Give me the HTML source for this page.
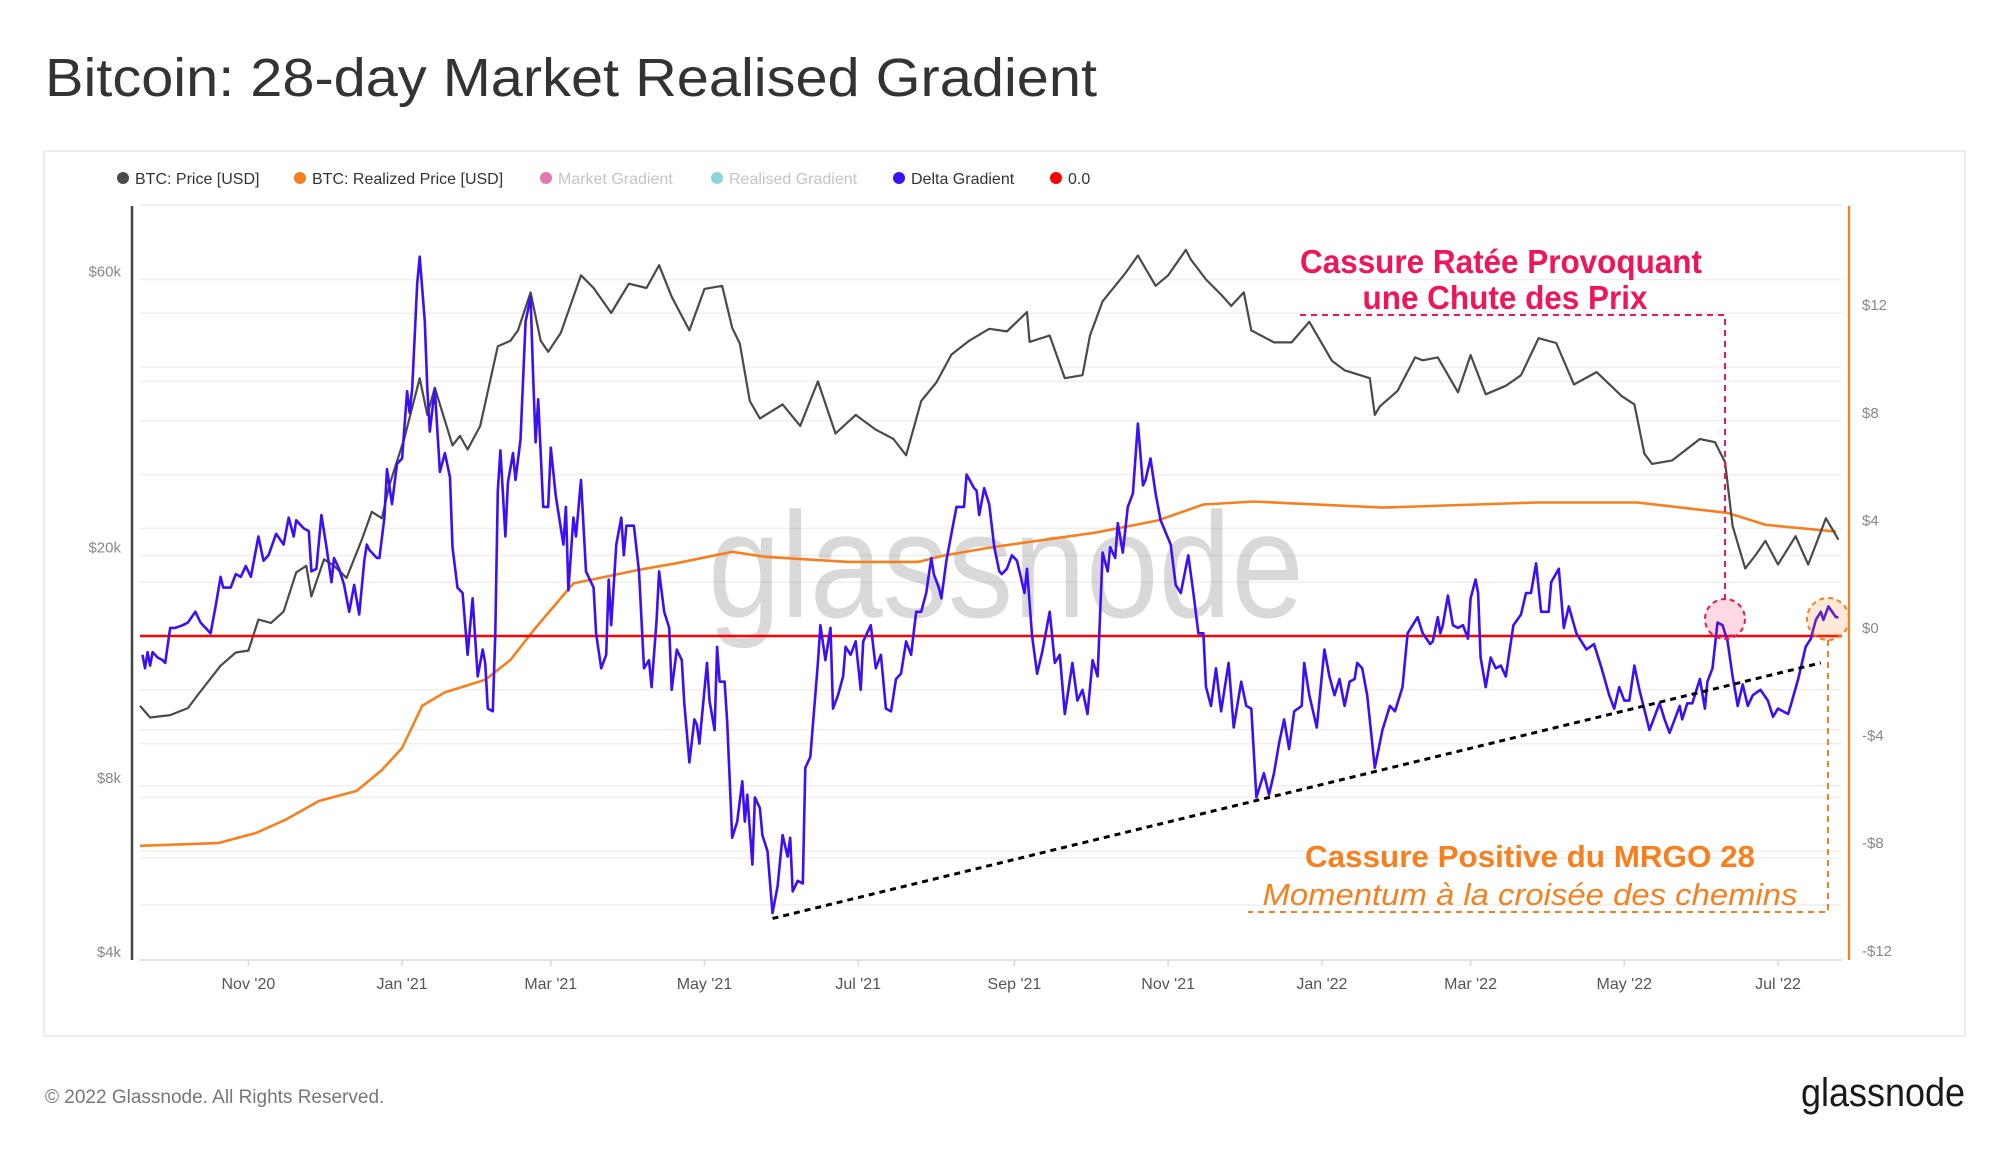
<!DOCTYPE html>
<html><head><meta charset="utf-8"><style>
html,body{margin:0;padding:0;background:#fff;}
svg{display:block;font-family:"Liberation Sans",sans-serif;}
</style></head><body>
<svg id="root" width="2000" height="1152" viewBox="0 0 2000 1152" xmlns="http://www.w3.org/2000/svg">
<text x="45" y="96" font-size="54" fill="#333" textLength="1052" lengthAdjust="spacingAndGlyphs">Bitcoin: 28-day Market Realised Gradient</text>
<rect x="44" y="151" width="1921" height="885" fill="none" stroke="#e6e6e6" stroke-width="1.5"/>
<g font-size="16">
 <g><circle cx="123" cy="178" r="6" fill="#4a4a4a"/><text x="135" y="184" fill="#333">BTC: Price [USD]</text></g>
 <g><circle cx="300" cy="178" r="6" fill="#f7801e"/><text x="312" y="184" fill="#333">BTC: Realized Price [USD]</text></g>
 <g><circle cx="546" cy="178" r="6" fill="#e07bb0"/><text x="558" y="184" fill="#c4c4c4">Market Gradient</text></g>
 <g><circle cx="717" cy="178" r="6" fill="#8fd3df"/><text x="729" y="184" fill="#c4c4c4">Realised Gradient</text></g>
 <g><circle cx="899" cy="178" r="6" fill="#3d0ff5"/><text x="911" y="184" fill="#333">Delta Gradient</text></g>
 <g><circle cx="1056" cy="178" r="6" fill="#ff0000"/><text x="1068" y="184" fill="#333">0.0</text></g>
</g>
<g id="grid"></g>
<text x="1006" y="617" font-size="150" fill="#000" fill-opacity="0.15" text-anchor="middle" textLength="596" lengthAdjust="spacingAndGlyphs">glassnode</text>
<g id="series"></g>
<g id="axes"></g>
<g>
 <text x="1501" y="273" font-size="33" font-weight="bold" fill="#f0145a" text-anchor="middle" textLength="402" lengthAdjust="spacingAndGlyphs">Cassure Ratée Provoquant</text>
 <text x="1505" y="309" font-size="33" font-weight="bold" fill="#f0145a" text-anchor="middle" textLength="285" lengthAdjust="spacingAndGlyphs">une Chute des Prix</text>
 <path d="M1300 315 H1725 V599" fill="none" stroke="#f0145a" stroke-width="2" stroke-dasharray="6 5"/>
 <circle cx="1725" cy="619" r="20" fill="rgba(240,20,90,0.16)" stroke="#f0145a" stroke-width="2" stroke-dasharray="5 4"/>
 <circle cx="1828" cy="619" r="21" fill="rgba(247,128,30,0.18)" stroke="#f7801e" stroke-width="2" stroke-dasharray="5 4"/>
 <path d="M1828 640 V912 H1248" fill="none" stroke="#f7801e" stroke-width="2" stroke-dasharray="6 5"/>
 <text x="1530" y="867" font-size="31" font-weight="bold" fill="#f7801e" text-anchor="middle" textLength="450" lengthAdjust="spacingAndGlyphs">Cassure Positive du MRGO 28</text>
 <text x="1530" y="905" font-size="31" font-style="italic" fill="#f7801e" text-anchor="middle" textLength="535" lengthAdjust="spacingAndGlyphs">Momentum à la croisée des chemins</text>
</g>
<text x="45" y="1103" font-size="19" fill="#777">© 2022 Glassnode. All Rights Reserved.</text>
<text x="1965" y="1106" font-size="40" fill="#1a1a1a" text-anchor="end" textLength="164" lengthAdjust="spacingAndGlyphs">glassnode</text>
</svg>
<script>
// ---- data ----
const priceDates = ['2020-09-19','2020-09-23','2020-10-01','2020-10-08','2020-10-12','2020-10-21','2020-10-27','2020-11-01','2020-11-05','2020-11-10','2020-11-15','2020-11-20','2020-11-24','2020-11-26','2020-12-01','2020-12-05','2020-12-10','2020-12-16','2020-12-20','2020-12-24','2020-12-27','2021-01-02','2021-01-08','2021-01-11','2021-01-14','2021-01-21','2021-01-24','2021-01-27','2021-02-01','2021-02-08','2021-02-13','2021-02-16','2021-02-21','2021-02-25','2021-02-28','2021-03-05','2021-03-13','2021-03-18','2021-03-25','2021-04-01','2021-04-08','2021-04-13','2021-04-18','2021-04-25','2021-05-01','2021-05-08','2021-05-12','2021-05-15','2021-05-19','2021-05-23','2021-06-01','2021-06-08','2021-06-15','2021-06-22','2021-06-30','2021-07-08','2021-07-15','2021-07-20','2021-07-26','2021-08-01','2021-08-07','2021-08-14','2021-08-22','2021-08-29','2021-09-06','2021-09-07','2021-09-15','2021-09-21','2021-09-28','2021-10-01','2021-10-06','2021-10-15','2021-10-20','2021-10-27','2021-11-01','2021-11-08','2021-11-10','2021-11-16','2021-11-22','2021-11-26','2021-12-01','2021-12-04','2021-12-13','2021-12-20','2021-12-27','2022-01-05','2022-01-10','2022-01-20','2022-01-22','2022-01-24','2022-01-31','2022-02-07','2022-02-10','2022-02-16','2022-02-24','2022-03-01','2022-03-07','2022-03-15','2022-03-21','2022-03-28','2022-04-04','2022-04-11','2022-04-20','2022-04-30','2022-05-05','2022-05-09','2022-05-12','2022-05-20','2022-05-31','2022-06-06','2022-06-10','2022-06-13','2022-06-18','2022-06-22','2022-06-26','2022-07-01','2022-07-08','2022-07-13','2022-07-20','2022-07-25'];
const priceValues = [11.0,10.5,10.6,10.9,11.5,12.9,13.6,13.7,15.5,15.3,16.0,18.7,19.2,17.0,19.7,19.2,18.3,21.3,23.8,23.2,26.5,32.0,40.5,35.0,39.0,31.0,32.2,30.5,33.5,46.0,47.0,49.0,57.0,47.0,45.0,48.5,61.0,58.0,52.5,59.0,58.0,63.5,56.0,49.0,57.8,58.5,49.5,46.5,37.0,34.5,36.5,33.5,40.0,32.5,35.0,33.0,31.8,29.8,37.0,39.8,44.5,47.0,49.3,48.8,52.7,46.8,48.0,40.5,41.0,48.0,55.0,61.5,66.0,58.5,61.0,67.5,65.0,60.0,56.5,54.0,57.0,49.0,46.7,46.7,50.7,43.4,41.8,40.5,35.0,36.2,38.5,44.0,43.5,44.0,38.3,44.4,38.0,39.3,41.0,47.5,46.6,39.5,41.5,37.7,36.5,30.0,28.8,29.2,31.8,31.4,29.0,22.5,19.0,20.0,21.2,19.3,21.6,19.3,23.2,21.3];
const realizedDates = ['2020-09-19','2020-10-20','2020-11-04','2020-11-16','2020-11-29','2020-12-14','2020-12-24','2021-01-01','2021-01-09','2021-01-18','2021-02-03','2021-02-13','2021-02-23','2021-03-10','2021-04-05','2021-04-20','2021-05-12','2021-05-25','2021-06-27','2021-07-25','2021-08-04','2021-08-24','2021-10-03','2021-10-28','2021-11-15','2021-12-05','2022-01-25','2022-03-27','2022-05-06','2022-06-11','2022-06-26','2022-07-24'];
const realizedValues = [6.3,6.37,6.63,7.0,7.53,7.84,8.52,9.3,11.0,11.6,12.2,13.2,15.0,17.9,18.9,19.4,20.3,19.9,19.5,19.5,20.0,20.7,21.9,23.0,24.5,24.8,24.2,24.7,24.7,23.7,22.6,22.0];
const deltaDays = [1,2,3,4,5,7,9,10,12,14,17,19,22,24,28,30,32,33,36,38,40,42,44,47,49,51,54,57,59,61,62,65,67,68,70,72,74,76,77,79,81,83,85,87,89,90,91,94,95,97,98,100,102,104,106,107,108,110,111,113,114,115,117,119,121,123,124,126,128,130,132,134,136,137,138,140,141,142,143,145,146,148,149,151,153,155,156,157,158,160,162,163,165,168,169,170,172,173,175,177,180,181,183,185,186,187,189,191,192,193,194,196,198,200,202,203,205,206,208,210,211,213,215,216,218,220,221,222,225,226,228,229,230,232,233,235,237,239,240,241,243,244,246,247,249,251,253,255,257,258,259,261,263,264,266,269,270,272,274,275,277,279,280,282,284,286,287,289,290,292,294,296,298,300,302,304,306,307,308,310,312,314,315,317,318,320,322,324,327,328,331,332,333,335,337,339,341,342,344,346,348,351,352,354,356,358,361,363,365,367,370,372,374,376,378,380,382,384,385,387,388,390,392,394,396,398,399,401,403,405,409,411,413,416,418,420,422,423,425,427,429,432,434,437,439,441,443,446,448,450,452,454,456,458,461,462,464,467,470,472,474,476,478,480,482,483,485,487,490,493,496,498,501,503,507,509,512,513,515,516,517,519,521,523,525,527,528,530,531,532,534,536,538,540,542,545,548,550,552,554,556,559,560,563,565,567,570,572,574,577,580,583,585,587,589,591,593,595,599,601,603,605,607,609,611,612,614,616,619,621,622,624,626,628,630,632,634,636,638,640,643,646,648,650,654,655,658,661,663,665,667,668,670,673,674];
const deltaValues = [-0.7,-1.2,-0.6,-1.1,-0.6,-0.8,-0.9,-1.0,0.3,0.3,0.4,0.5,0.9,0.5,0.1,1.1,2.2,1.8,1.8,2.3,2.2,2.6,2.2,3.7,2.8,3.0,3.8,3.4,4.4,3.7,4.3,4.0,3.9,2.4,2.5,4.5,3.3,2.0,2.9,2.5,1.9,0.9,1.9,0.8,2.8,3.4,3.2,2.9,2.9,4.4,6.2,4.9,6.4,6.6,9.1,8.3,9.2,13.1,14.1,11.7,9.2,7.6,9.2,6.1,6.8,5.9,3.3,1.8,1.6,-0.7,1.4,-1.5,-0.5,-1.0,-2.7,-2.8,0.1,5.4,6.9,3.7,5.7,6.8,5.8,7.3,11.7,12.6,9.7,7.2,8.8,4.8,4.8,7.0,5.2,3.4,4.8,1.7,4.4,3.7,5.8,2.4,1.8,0.1,-1.2,-0.7,2.1,0.4,3.4,4.4,3.0,4.1,4.1,4.1,2.4,-1.2,-0.9,-1.9,0.6,2.4,0.9,0.3,-2.0,-0.5,-0.9,-2.5,-4.7,-3.1,-3.3,-4.0,-1.0,-2.4,-3.5,-0.4,-1.7,-1.7,-3.2,-7.5,-6.9,-5.4,-6.9,-5.9,-8.5,-6.0,-6.4,-7.4,-8.0,-10.3,-9.3,-7.4,-8.2,-7.5,-9.5,-9.1,-9.2,-4.9,-4.5,-1.0,0.4,-0.9,0.3,-2.7,-2.2,-1.5,-0.4,-0.7,-0.2,-2.0,-0.2,0.2,0.4,-1.2,-0.7,-2.7,-2.8,-1.6,-1.4,-0.2,-0.7,0.1,0.9,0.9,1.6,2.9,2.3,1.8,1.4,2.8,3.8,4.8,4.8,6.0,5.5,5.4,4.5,5.5,4.9,3.3,2.4,2.3,2.5,3.0,2.8,1.6,2.5,0.0,-1.4,-0.6,0.9,-1.0,-0.7,-2.9,-1.0,-2.4,-2.0,-2.9,-0.9,-1.5,3.1,2.4,3.3,2.9,4.2,3.1,4.8,5.3,7.9,5.6,5.8,6.6,5.3,4.3,3.4,1.9,1.6,3.0,1.6,0.1,0.1,-1.9,-2.6,-1.2,-2.8,-1.0,-3.4,-1.7,-2.6,-2.7,-6.0,-5.1,-5.9,-5.1,-4.0,-3.1,-4.2,-2.8,-2.6,-1.0,-2.2,-3.4,-0.5,-1.5,-2.2,-1.6,-2.6,-1.7,-1.6,-1.0,-1.2,-2.2,-4.9,-3.5,-2.6,-2.8,-1.9,0.1,0.7,0.1,-0.3,-0.2,0.7,0.1,0.4,1.5,0.4,0.3,0.4,-0.1,1.4,2.1,1.6,-0.8,-1.9,-0.8,-1.2,-1.1,-1.5,0.4,0.8,1.6,1.6,2.7,0.9,0.9,2.0,2.5,0.3,1.1,0.1,-0.2,-0.5,-0.3,-1.2,-2.2,-2.7,-1.9,-2.4,-2.4,-1.1,-2.0,-3.5,-3.0,-2.5,-3.1,-3.6,-3.1,-2.6,-3.1,-2.5,-2.5,-1.6,-2.7,-1.7,-1.2,0.5,0.4,-0.2,-1.5,-2.6,-1.8,-2.6,-2.2,-2.0,-2.4,-3.0,-2.7,-2.9,-2.6,-1.6,-0.4,-0.1,0.6,0.9,0.6,1.1,0.7,0.7];
const zeroValue = 0.0;
const trendStartDay = 251, trendStartValue = -10.5;
const trendEndDay = 667, trendEndValue = -1.0;
const leftTicks = [4000, 8000, 20000, 60000];
const leftTickLabels = ['$4k','$8k','$20k','$60k'];
const leftGrid = [6000, 8000, 10000, 20000, 40000, 60000];
const rightTicks = [-12, -8, -4, 0, 4, 8, 12];
const rightTickLabels = ['-$12','-$8','-$4','$0','$4','$8','$12'];
const rightGrid = [-10,-8,-6,-4,-2,2,4,6,8,10,12];
const xTickDates = ['2020-11-01','2021-01-01','2021-03-01','2021-05-01','2021-07-01','2021-09-01','2021-11-01','2022-01-01','2022-03-01','2022-05-01','2022-07-01'];
const xTickLabels = ["Nov '20","Jan '21","Mar '21","May '21","Jul '21","Sep '21","Nov '21","Jan '22","Mar '22","May '22","Jul '22"];

// ---- scales ----
const NS='http://www.w3.org/2000/svg';
const X0=140, XR=1842, YT=206, YB=960, PXDAY=2.52;
const T0=Date.UTC(2020,8,19);
function dayOf(s){const p=s.split('-');return (Date.UTC(+p[0],+p[1]-1,+p[2])-T0)/86400000;}
function xDay(d){return X0+d*PXDAY;}
function yLeft(k){return YB-251.3*Math.log(k/4);}      // k = thousands USD
function yLeftUsd(v){return yLeft(v/1000);}
function yRight(v){return 636-v*26.9;}
function mk(tag,attrs,parent){const e=document.createElementNS(NS,tag);for(const k in attrs)e.setAttribute(k,attrs[k]);parent.appendChild(e);return e;}

const grid=document.getElementById('grid'), series=document.getElementById('series'), axes=document.getElementById('axes');
mk('line',{x1:X0,x2:XR,y1:YT-1,y2:YT-1,stroke:'#ececec','stroke-width':1.5},grid);
leftGrid.forEach(v=>{const l=mk('line',{x1:X0,x2:XR,y1:yLeftUsd(v),y2:yLeftUsd(v),stroke:'#efefef','stroke-width':1.5},grid);

});
rightGrid.forEach(v=>{const l=mk('line',{x1:X0,x2:XR,y1:yRight(v),y2:yRight(v),stroke:'#efefef','stroke-width':1.5},grid);

});

function pathFrom(xs,ys){return xs.map((x,i)=>(i?'L':'M')+x.toFixed(1)+' '+ys[i].toFixed(1)).join(' ');}

// realized price
let p=mk('path',{d:pathFrom(realizedDates.map(d=>xDay(dayOf(d))),realizedValues.map(yLeft)),fill:'none',stroke:'#f7801e','stroke-width':2.6,'stroke-linejoin':'round'},series);


// price
p=mk('path',{d:pathFrom(priceDates.map(d=>xDay(dayOf(d))),priceValues.map(yLeft)),fill:'none',stroke:'#4a4a4a','stroke-width':2.2,'stroke-linejoin':'round'},series);


// zero line
p=mk('line',{x1:X0,x2:XR,y1:yRight(zeroValue),y2:yRight(zeroValue),stroke:'#ff0000','stroke-width':2.6},series);


// delta gradient
p=mk('path',{d:pathFrom(deltaDays.map(xDay),deltaValues.map(yRight)),fill:'none',stroke:'#3d0ff5','stroke-width':2.6,'stroke-linejoin':'round'},series);


// trendline
p=mk('line',{x1:xDay(trendStartDay),y1:yRight(trendStartValue),x2:xDay(trendEndDay),y2:yRight(trendEndValue),stroke:'#000','stroke-width':3,'stroke-dasharray':'6 5'},series);



// axes
p=mk('line',{x1:132,x2:132,y1:YT,y2:YB,stroke:'#444','stroke-width':2.5},axes);


p=mk('line',{x1:1849,x2:1849,y1:YT,y2:YB,stroke:'#f7801e','stroke-width':2.2},axes);


p=mk('line',{x1:X0,x2:XR,y1:YB,y2:YB,stroke:'#d8d8d8','stroke-width':1.5},axes);


leftTicks.forEach((v,i)=>{const t=mk('text',{x:121,y:yLeftUsd(v)-3,'font-size':15,fill:'#888','text-anchor':'end'},axes);t.textContent=leftTickLabels[i];

});
rightTicks.forEach((v,i)=>{const t=mk('text',{x:1862,y:yRight(v)-3,'font-size':15,fill:'#888'},axes);t.textContent=rightTickLabels[i];

});
xTickDates.forEach((d,i)=>{const x=xDay(dayOf(d));
mk('line',{x1:x,x2:x,y1:YB,y2:YB+6,stroke:'#d8d8d8','stroke-width':1.5},axes);
const t=mk('text',{x:x,y:989,'font-size':16,fill:'#555','text-anchor':'middle'},axes);t.textContent=xTickLabels[i];

});
</script>
</body></html>
